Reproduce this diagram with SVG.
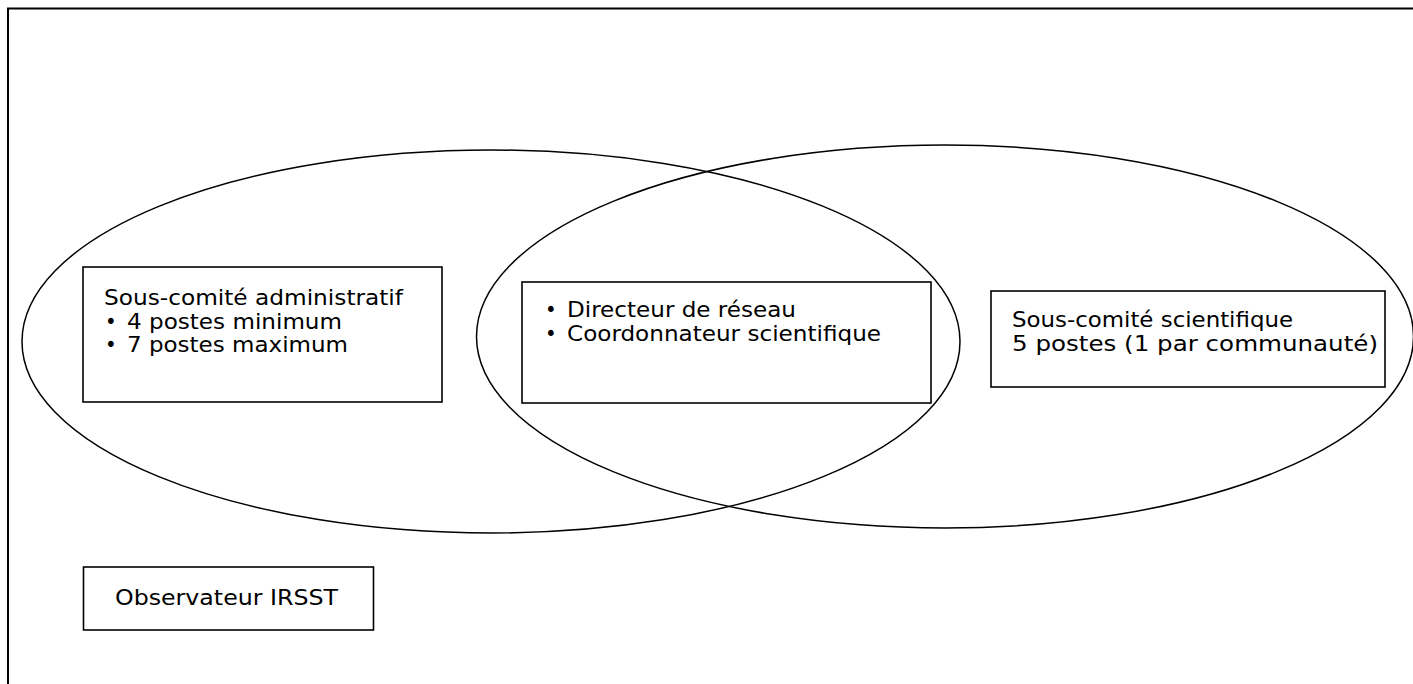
<svg xmlns="http://www.w3.org/2000/svg" width="1413" height="684" viewBox="0 0 1413 684">
<style>
.frame{fill:none;stroke:#000;stroke-width:2}
.ell{fill:none;stroke:#000;stroke-width:1.5}
.box{fill:#fff;stroke:#000;stroke-width:1.6}
text{font-family:"DejaVu Sans Condensed","DejaVu Sans",sans-serif;font-size:22px;fill:#000}
</style>
<rect class="frame" x="8" y="8.5" width="1430" height="700"/>
<g id="connectors"></g>
<g id="ellipse-admin"><ellipse class="ell" cx="491" cy="341.5" rx="469" ry="191.5"/></g>
<g id="ellipse-sci"><ellipse class="ell" cx="945" cy="336.5" rx="468.5" ry="191.5"/></g>
<g id="node-admin">
<rect class="box" x="83" y="267" width="359" height="135"/>
<text x="104" y="305" textLength="299" lengthAdjust="spacingAndGlyphs">Sous-comité administratif</text>
<text x="105" y="328.5">•</text>
<text x="127" y="328.5" textLength="215" lengthAdjust="spacingAndGlyphs">4 postes minimum</text>
<text x="105" y="352">•</text>
<text x="127" y="352" textLength="221" lengthAdjust="spacingAndGlyphs">7 postes maximum</text>
</g>
<g id="node-direction">
<rect class="box" x="522" y="282" width="409" height="121"/>
<text x="545" y="316.5">•</text>
<text x="567" y="316.5" textLength="229" lengthAdjust="spacingAndGlyphs">Directeur de réseau</text>
<text x="545" y="340.5">•</text>
<text x="567" y="340.5" textLength="314" lengthAdjust="spacingAndGlyphs">Coordonnateur scientifique</text>
</g>
<g id="node-sci">
<rect class="box" x="991" y="291" width="394" height="96"/>
<text x="1012" y="326.5" textLength="281" lengthAdjust="spacingAndGlyphs">Sous-comité scientifique</text>
<text x="1012" y="350.5" textLength="366" lengthAdjust="spacingAndGlyphs">5 postes (1 par communauté)</text>
</g>
<g id="node-observateur">
<rect class="box" x="83.5" y="567" width="290" height="63"/>
<text x="115" y="605" textLength="223" lengthAdjust="spacingAndGlyphs">Observateur IRSST</text>
</g>
</svg>
